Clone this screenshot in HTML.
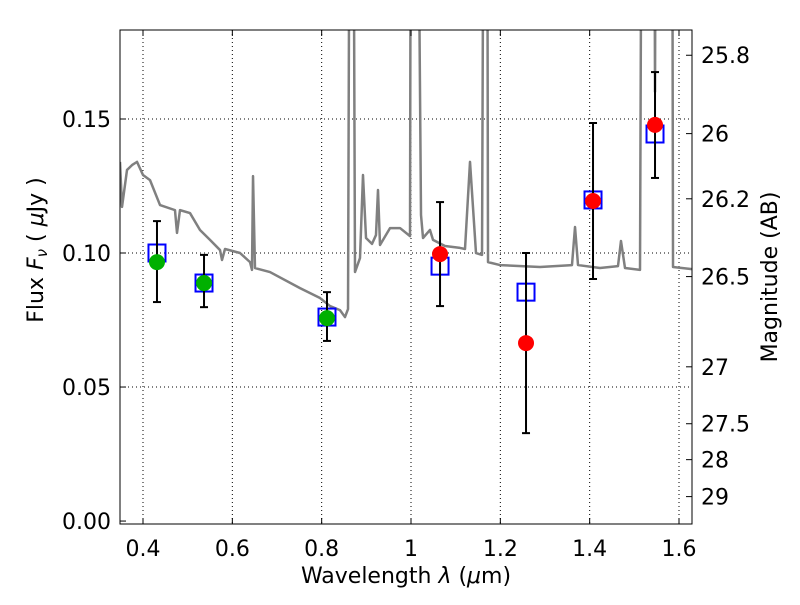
<!DOCTYPE html>
<html><head><meta charset="utf-8"><style>
body{margin:0;background:#fff}
svg text{font-family:"DejaVu Sans","Liberation Sans",sans-serif;fill:#000}
</style></head><body>
<svg id="chart" width="800" height="600" xmlns="http://www.w3.org/2000/svg">
<g id="grid"></g>
<g id="spec"></g>
<g id="marks"></g>
<g id="axes"></g>
<text x="406" y="583" text-anchor="middle" font-size="22">Wavelength  <tspan font-style="italic">λ</tspan> (<tspan font-style="italic">μ</tspan>m)</text>
<text transform="translate(43,250) rotate(-90)" text-anchor="middle" font-size="22">Flux  <tspan font-style="italic">F</tspan><tspan font-style="italic" font-size="15" dy="4">ν</tspan><tspan dy="-4">  (  </tspan><tspan font-style="italic">μ</tspan>Jy )</text>
<text transform="translate(777,277) rotate(-90)" text-anchor="middle" font-size="22">Magnitude (AB)</text>
</svg>
<script>
const specWave=[0.3485,0.3530,0.3642,0.3754,0.3866,0.4000,0.4157,0.4381,0.4716,0.4761,0.4828,0.5052,0.5276,0.5500,0.5724,0.5769,0.5836,0.6172,0.6396,0.6440,0.6463,0.6507,0.6843,0.7515,0.7963,0.8187,0.8410,0.8522,0.8590,0.8634,0.8701,0.8746,0.8858,0.8925,0.8993,0.9127,0.9216,0.9261,0.9306,0.9530,0.9754,0.9978,1.0000,1.0134,1.0224,1.0269,1.0425,1.0493,1.0761,1.1097,1.1209,1.1321,1.1455,1.1590,1.1634,1.1701,1.1724,1.1993,1.2888,1.3604,1.3672,1.3739,1.4231,1.4634,1.4701,1.4791,1.5127,1.5172,1.5440,1.5463,1.5485,1.5843,1.5866,1.6291];
const specFlux=[0.1340,0.1172,0.1310,0.1328,0.1340,0.1291,0.1272,0.1179,0.1160,0.1075,0.1160,0.1149,0.1086,0.1049,0.1011,0.0974,0.1015,0.1000,0.0966,0.0937,0.1287,0.0944,0.0929,0.0869,0.0832,0.0802,0.0787,0.0761,0.0791,0.30,0.30,0.0929,0.0981,0.1291,0.1056,0.1034,0.1067,0.1235,0.1030,0.1093,0.1093,0.1063,0.30,0.30,0.1142,0.1056,0.1086,0.1049,0.1026,0.1019,0.1015,0.1340,0.1000,0.0993,0.30,0.30,0.0966,0.0955,0.0948,0.0955,0.1097,0.0955,0.0944,0.0951,0.1045,0.0944,0.0937,0.30,0.30,0.1601,0.30,0.30,0.0948,0.0940];
const greenWave=[0.4313,0.5366,0.8119];
const greenFlux=[0.0966,0.0888,0.0757];
const greenHi=[0.1119,0.0993,0.0854];
const greenLo=[0.0817,0.0798,0.0672];
const redWave=[1.065,1.2575,1.4075,1.5463];
const redFlux=[0.0996,0.0664,0.1194,0.1478];
const redHi=[0.1190,0.1000,0.1485,0.1675];
const redLo=[0.0802,0.0328,0.0903,0.1280];
const modelWave=[0.4313,0.5366,0.8119,1.065,1.2575,1.4075,1.5463];
const modelFlux=[0.1000,0.0888,0.0761,0.0951,0.0854,0.1198,0.1444];
const xTicks=[0.4,0.6,0.8,1.0,1.2,1.4,1.6];
const xTickLabels=["0.4","0.6","0.8","1","1.2","1.4","1.6"];
const yTicks=[0,0.05,0.10,0.15];
const yTickLabels=["0.00","0.05","0.10","0.15"];
const magTicks=[25.8,26,26.2,26.5,27,27.5,28,29];
const magTickLabels=["25.8","26","26.2","26.5","27","27.5","28","29"];

const L=120,R=692,T=30,B=524;
const X0=0.3485,X1=1.6291,Y0=-0.0011,Y1=0.1832;
const sx=v=>L+(v-X0)/(X1-X0)*(R-L);
const sy=v=>B-(v-Y0)/(Y1-Y0)*(B-T);
const NS="http://www.w3.org/2000/svg";
function mk(tag,parent,attrs){const e=document.createElementNS(NS,tag);for(const k in attrs)e.setAttribute(k,attrs[k]);parent.appendChild(e);return e;}
const grid=document.getElementById('grid'),spec=document.getElementById('spec'),marks=document.getElementById('marks'),axes=document.getElementById('axes');
const defs=mk('defs',document.getElementById('chart'),{});
const cp=mk('clipPath',defs,{id:'pc'});mk('rect',cp,{x:L,y:T,width:R-L,height:B-T});
spec.setAttribute('clip-path','url(#pc)');
xTicks.forEach((v,i)=>{
  const g=mk('line',grid,{x1:sx(v),x2:sx(v),y1:T,y2:B,stroke:'#000','stroke-width':1,'stroke-dasharray':'1,3'});
  
  
  mk('line',axes,{x1:sx(v),x2:sx(v),y1:B,y2:B-6,stroke:'#000'});
  mk('line',axes,{x1:sx(v),x2:sx(v),y1:T,y2:T+6,stroke:'#000'});
  const t=mk('text',axes,{x:sx(v),y:B+32,'text-anchor':'middle','font-size':22});
  t.textContent=xTickLabels[i];
  
  
});
yTicks.forEach((v,i)=>{
  if(v>0){const g=mk('line',grid,{x1:L,x2:R,y1:sy(v),y2:sy(v),stroke:'#000','stroke-width':1,'stroke-dasharray':'1,3'});
  
  }
  mk('line',axes,{x1:L,x2:L+6,y1:sy(v),y2:sy(v),stroke:'#000'});
  const t=mk('text',axes,{x:L-9,y:sy(v)+8,'text-anchor':'end','font-size':22});
  t.textContent=yTickLabels[i];
  
  
});
magTicks.forEach((m,i)=>{
  const f=Math.pow(10,(23.9-m)/2.5);const y=sy(f);
  mk('line',axes,{x1:R,x2:R-6,y1:y,y2:y,stroke:'#000'});
  const t=mk('text',axes,{x:R+9,y:y+8,'font-size':22});
  t.textContent=magTickLabels[i];
  
  
});
const frame=mk('rect',axes,{x:L,y:T,width:R-L,height:B-T,fill:'none',stroke:'#000','stroke-width':1});


const sp=mk('polyline',spec,{points:specWave.map((w,i)=>sx(w)+','+sy(specFlux[i])).join(' '),fill:'none',stroke:'#808080','stroke-width':2.5,'stroke-linejoin':'round'});


modelWave.forEach((w,i)=>{
  const r=mk('rect',marks,{x:sx(w)-8.5,y:sy(modelFlux[i])-8.5,width:17,height:17,fill:'none',stroke:'#0000ff','stroke-width':2});
  
  
});
function pts(wave,flux,hi,lo,col,name){
  wave.forEach((w,i)=>{
    const x=sx(w);
    const e=mk('g',marks,{stroke:'#000','stroke-width':2});
    
    
    mk('line',e,{x1:x,x2:x,y1:sy(hi[i]),y2:sy(lo[i])});
    mk('line',e,{x1:x-4,x2:x+4,y1:sy(hi[i]),y2:sy(hi[i])});
    mk('line',e,{x1:x-4,x2:x+4,y1:sy(lo[i]),y2:sy(lo[i])});
    const c=mk('circle',marks,{cx:x,cy:sy(flux[i]),r:8,fill:col});
    
    
  });
}
pts(greenWave,greenFlux,greenHi,greenLo,'#00b000','optical');
pts(redWave,redFlux,redHi,redLo,'#ff0000','nir');
</script>
</body></html>
